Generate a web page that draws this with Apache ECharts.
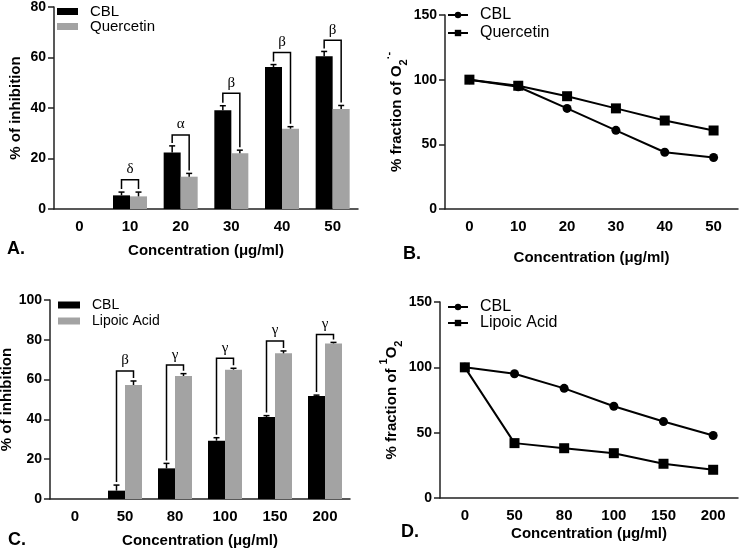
<!DOCTYPE html>
<html>
<head>
<meta charset="utf-8">
<script src="https://cdn.jsdelivr.net/npm/echarts@6/dist/echarts.min.js"></script>
<style>
  html, body { margin: 0; padding: 0; background: #fff; }
  #main { width: 740px; height: 550px; }
</style>
</head>
<body>
<div id="main"></div>
<script>
// panel A: superoxide inhibition, CBL vs quercetin
const catsA = ['0', '10', '20', '30', '40', '50'];
const cblA = [0, 5.4, 22.4, 39.1, 56.2, 60.5];
const cblErrA = [0, 6.7, 25, 40.9, 57.2, 62.4];
const querA = [0, 5, 12.8, 22.1, 31.8, 39.6];
const querErrA = [0, 6.7, 14.1, 23.3, 32.6, 41];
const bracketA = [null, 11.6, 29.3, 45.8, 62, 66.8];
const sigA = ['', 'δ', 'α', 'β', 'β', 'β'];

// panel B: % fraction of O2 radical
const catsB = ['0', '10', '20', '30', '40', '50'];
const cblB = [100, 94.5, 77.8, 60.8, 43.9, 39.8];
const querB = [100, 95.3, 87.2, 77.8, 68.4, 60.7];

// panel C: singlet oxygen inhibition, CBL vs lipoic acid
const catsC = ['0', '50', '80', '100', '150', '200'];
const cblC = [0, 4.2, 15.4, 29.3, 41.2, 51.8];
const cblErrC = [0, 7, 17.9, 30.8, 41.9, 52.2];
const lipC = [0, 57.3, 61.8, 65, 73.2, 78.2];
const lipErrC = [0, 59.3, 63, 65.7, 74.4, 78.7];
const bracketC = [null, 64.3, 67.3, 70.7, 79.4, 82.7];
const sigC = ['', 'β', 'γ', 'γ', 'γ', 'γ'];

// panel D: % fraction of singlet oxygen
const catsD = ['0', '50', '80', '100', '150', '200'];
const cblD = [100, 95.1, 83.9, 70.2, 58.5, 47.8];
const lipD = [100, 42, 38.1, 34.3, 26.2, 21.6];

const FONT = '"Liberation Sans", Arial, sans-serif';
const AXIS_COLOR = '#222';
const BAR_W = 17;

const chart = echarts.init(document.getElementById('main'));

// error bar drawn above a bar; side -1 = left bar, +1 = right bar
const errBar = (side) => (params, api) => {
  const i = api.value(0);
  const p0 = api.coord([i, api.value(1)]);
  const p1 = api.coord([i, api.value(2)]);
  const x = p0[0] + side * BAR_W / 2;
  const st = { stroke: '#000', lineWidth: 1.5 };
  return {
    type: 'group',
    children: [
      { type: 'line', shape: { x1: x, y1: p0[1], x2: x, y2: p1[1] }, style: st },
      { type: 'line', shape: { x1: x - 3, y1: p1[1], x2: x + 3, y2: p1[1] }, style: st }
    ]
  };
};

// significance bracket between the two bars of a category
const bracket = (labels) => (params, api) => {
  const i = api.value(0);
  const top = api.coord([i, api.value(1)]);
  const l = api.coord([i, api.value(2)]);
  const r = api.coord([i, api.value(3)]);
  const xl = top[0] - BAR_W / 2, xr = top[0] + BAR_W / 2;
  const st = { stroke: '#000', lineWidth: 1.5, fill: null };
  return {
    type: 'group',
    children: [
      { type: 'polyline', shape: { points: [[xl, l[1] - 3], [xl, top[1]], [xr, top[1]], [xr, r[1] - 3]] }, style: st },
      {
        type: 'text', x: top[0], y: top[1] - 3,
        style: { text: labels[i], font: '15px "Liberation Serif", "Times New Roman", serif', fill: '#000', align: 'center', verticalAlign: 'bottom' }
      }
    ]
  };
};

const pairs = (a, b, c) => a.map((v, i) => [i, v, b[i], c ? c[i] : 0]);

const xAxisBase = (idx, cats, gap) => ({
  type: 'category', gridIndex: idx, data: cats, boundaryGap: true,
  axisLine: { lineStyle: { color: AXIS_COLOR, width: 1.5 } },
  axisTick: { alignWithLabel: true, length: 5, lineStyle: { color: AXIS_COLOR, width: 1.5 } },
  axisLabel: { color: '#000', fontFamily: FONT, fontWeight: 'bold', fontSize: 15, margin: 10 },
  name: 'Concentration (μg/ml)', nameLocation: 'middle', nameGap: gap,
  nameTextStyle: { color: '#000', fontFamily: FONT, fontWeight: 'bold', fontSize: 15 }
});

const yAxisBase = (idx, max, interval, name, gap, rich) => ({
  type: 'value', gridIndex: idx, min: 0, max: max, interval: interval,
  splitLine: { show: false },
  axisLine: { show: true, lineStyle: { color: AXIS_COLOR, width: 1.5 } },
  axisTick: { show: true, length: 6, lineStyle: { color: AXIS_COLOR, width: 1.5 } },
  axisLabel: { color: '#000', fontFamily: FONT, fontWeight: 'bold', fontSize: 14, margin: 8 },
  name: name, nameLocation: 'middle', nameRotate: 90, nameGap: gap,
  nameTextStyle: { color: '#000', fontFamily: FONT, fontWeight: 'bold', fontSize: 15, rich: rich }
});

const richName = {
  sub: { fontFamily: FONT, fontWeight: 'bold', fontSize: 11, color: '#000', verticalAlign: 'bottom', padding: [0, 0, -5, 0] },
  sup: { fontFamily: FONT, fontWeight: 'bold', fontSize: 11, color: '#000', verticalAlign: 'top', padding: [-6, 0, 0, 0] }
};

const legendBase = (left, top, names, fs, lh, iw, ih, icon) => ({
  orient: 'vertical', left: left, top: top, padding: 0, itemGap: 0,
  itemWidth: iw, itemHeight: ih, icon: icon,
  data: names,
  formatter: (n) => n.split('#')[0],
  textStyle: { fontFamily: FONT, fontSize: fs, lineHeight: lh, color: '#000', padding: [0, 0, 0, 7] }
});

const lineStyle = { color: '#000', width: 2 };

const option = {
  animation: false,
  backgroundColor: '#fff',
  grid: [
    { left: 54, top: 7, width: 304, height: 202, outerBoundsMode: 'none' },
    { left: 445, top: 15, width: 293, height: 194, outerBoundsMode: 'none' },
    { left: 50, top: 300, width: 300, height: 199, outerBoundsMode: 'none' },
    { left: 440, top: 302, width: 298, height: 196, outerBoundsMode: 'none' }
  ],
  xAxis: [
    xAxisBase(0, catsA, 34),
    xAxisBase(1, catsB, 41),
    xAxisBase(2, catsC, 34),
    xAxisBase(3, catsD, 28)
  ],
  yAxis: [
    yAxisBase(0, 80, 20, '% of inhibition', 31),
    yAxisBase(1, 150, 50, '% fraction of O{sub|2}{sup|·-}', 38, richName),
    yAxisBase(2, 100, 20, '% of inhibition', 30),
    yAxisBase(3, 150, 50, '% fraction of {sup|1}O{sub|2}', 36, richName)
  ],
  legend: [
    legendBase(57, 4, ['CBL#A', 'Quercetin#A'], 15, 15, 21, 7, 'rect'),
    legendBase(447, 6, ['CBL#B', 'Quercetin#B'], 16, 18, 20, 8),
    legendBase(58, 297, ['CBL#C', 'Lipoic Acid#C'], 14, 16, 22, 7, 'rect'),
    legendBase(447, 299, ['CBL#D', 'Lipoic Acid#D'], 16, 15, 20, 8)
  ],
  graphic: [
    { type: 'text', left: 7, top: 240, style: { text: 'A.', font: 'bold 18px ' + FONT, fill: '#000' } },
    { type: 'text', left: 403, top: 245, style: { text: 'B.', font: 'bold 18px ' + FONT, fill: '#000' } },
    { type: 'text', left: 8, top: 531, style: { text: 'C.', font: 'bold 18px ' + FONT, fill: '#000' } },
    { type: 'text', left: 401, top: 523, style: { text: 'D.', font: 'bold 18px ' + FONT, fill: '#000' } }
  ],
  series: [
    // A
    { name: 'CBL#A', type: 'bar', xAxisIndex: 0, yAxisIndex: 0, data: cblA, barWidth: BAR_W, barGap: '0%', itemStyle: { color: '#000' } },
    { name: 'Quercetin#A', type: 'bar', xAxisIndex: 0, yAxisIndex: 0, data: querA, barWidth: BAR_W, barGap: '0%', itemStyle: { color: '#a3a3a3' } },
    { type: 'custom', xAxisIndex: 0, yAxisIndex: 0, renderItem: errBar(-1), data: pairs(cblA, cblErrA).slice(1), z: 5 },
    { type: 'custom', xAxisIndex: 0, yAxisIndex: 0, renderItem: errBar(1), data: pairs(querA, querErrA).slice(1), z: 5 },
    { type: 'custom', xAxisIndex: 0, yAxisIndex: 0, renderItem: bracket(sigA), data: pairs(bracketA, cblErrA, querErrA).slice(1), z: 6 },
    // B
    { name: 'CBL#B', type: 'line', xAxisIndex: 1, yAxisIndex: 1, data: cblB, symbol: 'circle', symbolSize: 9, lineStyle: lineStyle, itemStyle: { color: '#000' } },
    { name: 'Quercetin#B', type: 'line', xAxisIndex: 1, yAxisIndex: 1, data: querB, symbol: 'rect', symbolSize: 10, lineStyle: lineStyle, itemStyle: { color: '#000' } },
    // C
    { name: 'CBL#C', type: 'bar', xAxisIndex: 2, yAxisIndex: 2, data: cblC, barWidth: BAR_W, barGap: '0%', itemStyle: { color: '#000' } },
    { name: 'Lipoic Acid#C', type: 'bar', xAxisIndex: 2, yAxisIndex: 2, data: lipC, barWidth: BAR_W, barGap: '0%', itemStyle: { color: '#a3a3a3' } },
    { type: 'custom', xAxisIndex: 2, yAxisIndex: 2, renderItem: errBar(-1), data: pairs(cblC, cblErrC).slice(1), z: 5 },
    { type: 'custom', xAxisIndex: 2, yAxisIndex: 2, renderItem: errBar(1), data: pairs(lipC, lipErrC).slice(1), z: 5 },
    { type: 'custom', xAxisIndex: 2, yAxisIndex: 2, renderItem: bracket(sigC), data: pairs(bracketC, cblErrC, lipErrC).slice(1), z: 6 },
    // D
    { name: 'CBL#D', type: 'line', xAxisIndex: 3, yAxisIndex: 3, data: cblD, symbol: 'circle', symbolSize: 9, lineStyle: lineStyle, itemStyle: { color: '#000' } },
    { name: 'Lipoic Acid#D', type: 'line', xAxisIndex: 3, yAxisIndex: 3, data: lipD, symbol: 'rect', symbolSize: 10, lineStyle: lineStyle, itemStyle: { color: '#000' } }
  ]
};

chart.setOption(option);
</script>
</body>
</html>
